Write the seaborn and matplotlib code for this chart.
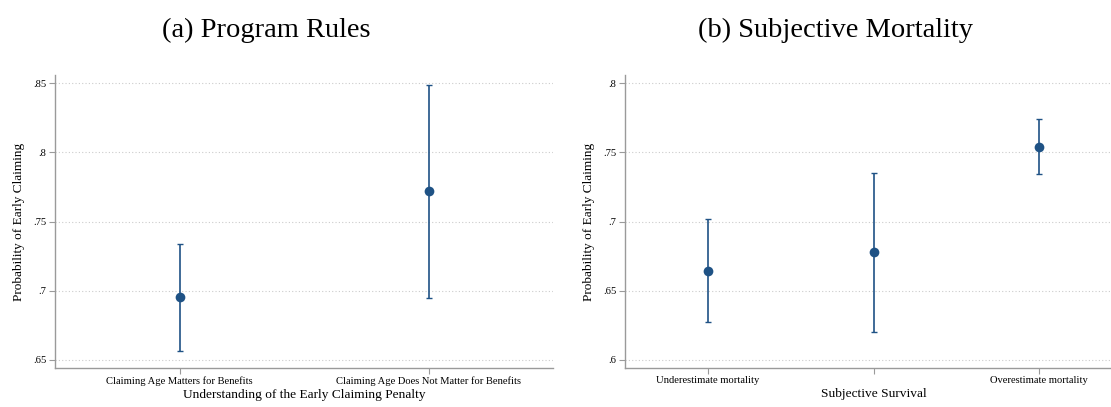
import matplotlib
matplotlib.use("Agg")
import matplotlib.pyplot as plt
import seaborn as sns
import pandas as pd

# ---- data ----
cats_a = ["Claiming Age Matters for Benefits", "Claiming Age Does Not Matter for Benefits"]
est_a = [0.6953, 0.7721]
lo_a = [0.6563, 0.6950]
hi_a = [0.7340, 0.8487]

cats_b = ["Underestimate mortality", "", "Overestimate mortality"]
est_b = [0.6645, 0.6778, 0.7539]
lo_b = [0.6277, 0.6205, 0.7342]
hi_b = [0.7017, 0.7349, 0.7739]

yticks_a = [0.65, 0.70, 0.75, 0.80, 0.85]
yticklabels_a = [".65", ".7", ".75", ".8", ".85"]
yticks_b = [0.60, 0.65, 0.70, 0.75, 0.80]
yticklabels_b = [".6", ".65", ".7", ".75", ".8"]

sns.set_theme(style="white")
plt.rcParams["font.family"] = ["Liberation Serif", "DejaVu Serif"]

NAVY = "#1f5285"
W, H = 1111, 407
fig = plt.figure(figsize=(W / 100, H / 100), dpi=100)

def frac(x0, y0, x1, y1):
    return [x0 / W, 1 - y1 / H, (x1 - x0) / W, (y1 - y0) / H]

ax_a = fig.add_axes(frac(55, 75, 553, 368))
ax_b = fig.add_axes(frac(625, 75, 1122, 368))

def draw(ax, cats, est, lo, hi, yticks, ylabels, ylim, xlim, xlabel):
    keys = [f"c{i}" for i in range(len(cats))]
    df = pd.DataFrame({"cat": keys, "est": est, "lo": lo, "hi": hi})
    for t in yticks:
        ax.axhline(t, color="#cccccc", lw=0.8, ls=(0, (1, 2)), zorder=0)
    ax.errorbar(range(len(keys)), df["est"], yerr=[df["est"] - df["lo"], df["hi"] - df["est"]],
                fmt="none", ecolor=NAVY, elinewidth=1.2, capsize=2.2, capthick=1.0, zorder=2)
    sns.stripplot(data=df, x="cat", y="est", order=keys, jitter=False, color=NAVY,
                  size=7, linewidth=0, ax=ax, zorder=3)
    ax.set_xlim(*xlim)
    ax.set_ylim(*ylim)
    ax.set_xticks(range(len(keys)))
    ax.set_xticklabels(cats, fontsize=7.6, color="black")
    ax.set_yticks(yticks)
    ax.set_yticklabels(ylabels, fontsize=7.6, color="black")
    ax.set_xlabel(xlabel, fontsize=9.6, labelpad=2, color="black")
    ax.set_ylabel("Probability of Early Claiming", fontsize=9.5, labelpad=6, color="black")
    for s in ["top", "right"]:
        ax.spines[s].set_visible(False)
    for s in ["left", "bottom"]:
        ax.spines[s].set_color("#9a9a9a")
        ax.spines[s].set_linewidth(1.0)
    ax.tick_params(axis="both", which="both", direction="out", length=4, width=0.8,
                   color="#9a9a9a", pad=2, left=True, bottom=True, labelcolor="black")
    ax.grid(False)

draw(ax_a, cats_a, est_a, lo_a, hi_a, yticks_a, yticklabels_a, (0.6442, 0.856), (-0.5, 1.5),
     "Understanding of the Early Claiming Penalty")
draw(ax_b, cats_b, est_b, lo_b, hi_b, yticks_b, yticklabels_b, (0.5942, 0.806), (-0.5, 2.5),
     "Subjective Survival")

fig.text(266 / W, 1 - 30 / H, "(a) Program Rules", ha="center", va="center", fontsize=20.5, color="black")
fig.text(836 / W, 1 - 30 / H, "(b) Subjective Mortality", ha="center", va="center", fontsize=20.5, color="black")

fig.savefig("out.png", dpi=100, facecolor="white")
